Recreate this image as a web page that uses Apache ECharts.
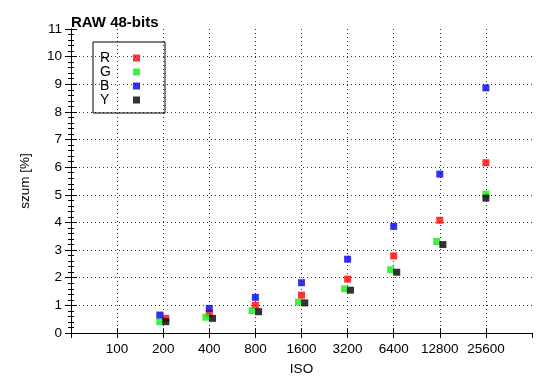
<!DOCTYPE html>
<html>
<head>
<meta charset="utf-8">
<script src="https://cdn.jsdelivr.net/npm/echarts@6/dist/echarts.min.js"></script>
<style>html,body{margin:0;padding:0;background:#fff}#c{width:550px;height:389px}</style>
</head>
<body>
<div id="c"></div>
<script>
// ISO tick labels (log2 spaced)
var isoTicks = [100, 200, 400, 800, 1600, 3200, 6400, 12800, 25600];
// series ISO positions as drawn (slightly offset in the picture) and noise values [%]
var isoR = [208, 400, 800, 1600, 3200, 6400, 12800, 25600];
var valR = [0.53, 0.71, 1.00, 1.37, 1.95, 2.79, 4.08, 6.16];
var isoG = [190, 380, 760, 1530, 3060, 6110, 12200, 25600];
var valG = [0.41, 0.57, 0.81, 1.12, 1.60, 2.29, 3.31, 5.03];
var isoB = [190, 400, 800, 1600, 3200, 6400, 12800, 25600];
var valB = [0.65, 0.89, 1.29, 1.82, 2.67, 3.86, 5.75, 8.87];
var isoY = [208, 420, 840, 1680, 3340, 6700, 13400, 25600];
var valY = [0.41, 0.53, 0.77, 1.09, 1.55, 2.20, 3.20, 4.88];

var ISO_BASE = 50; // left edge of the axis
function lx(iso) { return Math.log(iso / ISO_BASE) / Math.LN2; }
function pts(isos, vals) { return isos.map(function (s, i) { return [lx(s), vals[i]]; }); }

var FONT = 'Liberation Sans, Arial, Helvetica, sans-serif';
var chart = echarts.init(document.getElementById('c'), null, {renderer: 'canvas'});
var gridLine = {show: true, showMinLine: false, showMaxLine: false, lineStyle: {color: '#333', type: [1, 3], width: 1}};
var xTickLabel = function (v) {
  var iso = Math.round(ISO_BASE * Math.pow(2, v));
  return isoTicks.indexOf(iso) >= 0 ? String(iso) : '';
};
function mk(name, color, isos, vals) {
  return {name: name, type: 'scatter', symbol: 'rect', symbolSize: 7,
    itemStyle: {color: color}, data: pts(isos, vals), xAxisIndex: 0, yAxisIndex: 0,
    emphasis: {disabled: true}};
}
chart.setOption({
  animation: false,
  backgroundColor: '#fff',
  title: {text: 'RAW 48-bits', left: 71, top: 15, padding: 0,
    textStyle: {fontFamily: FONT, fontSize: 15, fontWeight: 'bold', color: '#000'}},
  grid: {left: 71, right: 18, top: 29, bottom: 56},
  legend: {
    orient: 'vertical', left: 93, top: 42, align: 'right',
    padding: [9, 25, 6, 7], itemGap: 0, itemWidth: 7, itemHeight: 7,
    borderColor: '#000', borderWidth: 1, borderRadius: 0,
    icon: 'rect',
    formatter: function (n) { return '{t|' + n + '}'; },
    textStyle: {fontFamily: FONT, fontSize: 14, color: '#000', lineHeight: 13.7,
      rich: {t: {width: 28, align: 'left', fontFamily: FONT, fontSize: 14, color: '#000', lineHeight: 13.7}}},
    data: ['R', 'G', 'B', 'Y']
  },
  xAxis: [{
    type: 'value', min: 0, max: 10, interval: 1, position: 'bottom',
    name: 'ISO', nameLocation: 'middle', nameGap: 29,
    nameTextStyle: {fontFamily: FONT, fontSize: 13.5, color: '#000'},
    axisLine: {show: true, lineStyle: {color: '#000', width: 1}},
    axisTick: {show: true, inside: true, length: 5, lineStyle: {color: '#000'}},
    axisLabel: {formatter: xTickLabel, fontFamily: FONT, fontSize: 13.5, color: '#000', margin: 9,
      showMinLabel: false, showMaxLabel: false},
    splitLine: gridLine
  }, {
    type: 'value', min: 0, max: 10, interval: 1, position: 'top',
    axisLine: {show: true, lineStyle: {color: '#000', width: 1}},
    axisTick: {show: true, inside: true, length: 5, lineStyle: {color: '#000'}},
    axisLabel: {show: false}, splitLine: {show: false}
  }],
  yAxis: [{
    type: 'value', min: 0, max: 11, interval: 1, position: 'left',
    name: 'szum [%]', nameLocation: 'middle', nameGap: 39,
    nameTextStyle: {fontFamily: FONT, fontSize: 13.5, color: '#000'},
    axisLine: {show: true, lineStyle: {color: '#000', width: 1}},
    axisTick: {show: true, inside: true, length: 6, lineStyle: {color: '#000'}},
    minorTick: {show: true, splitNumber: 5, length: 3, lineStyle: {color: '#000'}},
    axisLabel: {fontFamily: FONT, fontSize: 13.5, color: '#000', margin: 9},
    splitLine: gridLine
  }, {
    type: 'value', min: 0, max: 11, interval: 1, position: 'right',
    axisLine: {show: true, lineStyle: {color: '#000', width: 1}},
    axisTick: {show: true, inside: true, length: 6, lineStyle: {color: '#000'}},
    minorTick: {show: true, splitNumber: 5, length: 3, lineStyle: {color: '#000'}},
    axisLabel: {show: false}, splitLine: {show: false}
  }],
  series: [
    mk('R', '#ff0000', isoR, valR),
    mk('G', '#11ee11', isoG, valG),
    mk('B', '#0000e6', isoB, valB),
    mk('Y', '#000000', isoY, valY)
  ]
});
</script>
</body>
</html>
